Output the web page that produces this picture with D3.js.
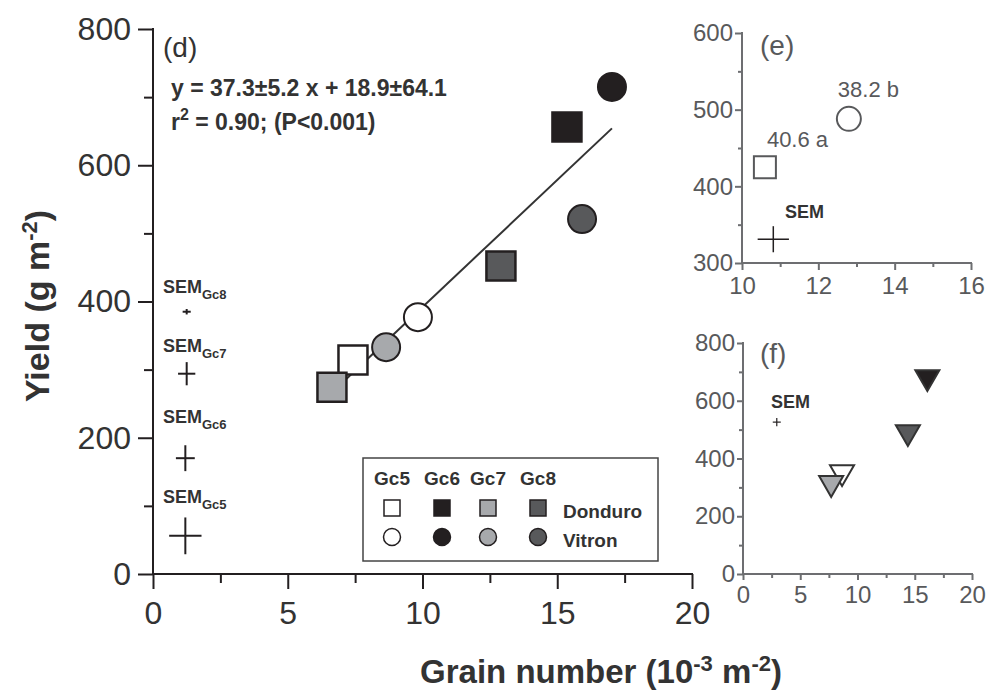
<!DOCTYPE html>
<html>
<head>
<meta charset="utf-8">
<script src="https://cdn.jsdelivr.net/npm/d3@7"></script>
<style>
body { margin: 0; background: #fff; }
svg { display: block; font-family: "Liberation Sans", Arial, sans-serif; }
</style>
</head>
<body>
<div id="grafico"></div>
<script>
// --- datos ---
const groups = ["Gc5", "Gc6", "Gc7", "Gc8"];
const cultivars = ["Donduro", "Vitron"];
const donduroGrain = [7.42, 15.36, 6.64, 12.91];
const donduroYield = [314, 656, 274, 452];
const vitronGrain = [9.83, 17.03, 8.65, 15.92];
const vitronYield = [377, 715, 333, 521];
const fitSlope = 37.3;
const fitIntercept = 18.9;
const eqText = "y = 37.3\u00b15.2 x + 18.9\u00b164.1";
const r2Text = " = 0.90; (P<0.001)";

// SEM por grupo (panel d)
const semGroups = ["Gc8", "Gc7", "Gc6", "Gc5"];
const semX = [1.25, 1.25, 1.2, 1.2];
const semY = [385, 294, 170, 56];
const semXerr = [0.15, 0.32, 0.35, 0.6];
const semYerr = [4, 17, 19, 27];
const semLabelX = [0.37, 0.37, 0.37, 0.37];
const semLabelY = [412, 326, 222, 104];

// panel e
const eGrain = [10.6, 12.8];
const eYield = [425, 488];
const eLabels = ["40.6 a", "38.2 b"];
const eSem = { x: 10.82, y: 331, xerr: 0.41, yerr: 17 };

// panel f (Gc5..Gc8)
const fGrain = [8.65, 16.1, 7.7, 14.4];
const fYield = [353, 682, 315, 491];
const fSem = { x: 2.95, y: 526, xerr: 0.35, yerr: 14 };

// ticks
const dYTicks = [0, 200, 400, 600, 800];
const dYMinor = [100, 300, 500, 700];
const dXTicks = [0, 5, 10, 15, 20];
const dXMinor = [2.5, 7.5, 12.5, 17.5];
const eYTicks = [300, 400, 500, 600];
const eYMinor = [350, 450, 550];
const eXTicks = [10, 12, 14, 16];
const eXMinor = [11, 13, 15];
const fYTicks = [0, 200, 400, 600, 800];
const fYMinor = [100, 300, 500, 700];
const fXTicks = [0, 5, 10, 15, 20];
const fXMinor = [2.5, 7.5, 12.5, 17.5];

// --- estilos ---
const groupFill = ["#ffffff", "#231f20", "#a7a9ac", "#58595b"];
const ink = "#231f20";
const grey = "#6d6e71";

const width = 989, height = 691;

const svg = d3.select("#grafico").append("svg")
  .attr("width", width).attr("height", height);

function axisStyle(g, color, fs, tcolor) {
  g.selectAll("path,line").attr("stroke", color).attr("stroke-width", 2);
  g.selectAll("text").attr("font-size", fs).attr("fill", tcolor)
    .attr("font-family", "Liberation Sans, Arial, sans-serif");
}

function drawAxes(xs, ys, o) {
  const fmt = d3.format("d");
  const gx = svg.append("g").attr("transform", `translate(0,${ys.range()[0]})`)
    .call(d3.axisBottom(xs).tickValues(o.xt).tickSize(o.major).tickSizeOuter(0)
      .tickPadding(o.xpad).tickFormat(fmt));
  svg.append("g").attr("transform", `translate(0,${ys.range()[0]})`)
    .call(d3.axisBottom(xs).tickValues(o.xm).tickSize(o.minor).tickSizeOuter(0).tickFormat(""))
    .call(g => g.select(".domain").remove())
    .call(g => axisStyle(g, o.color, o.fs, o.tcolor));
  const gy = svg.append("g").attr("transform", `translate(${xs.range()[0]},0)`)
    .call(d3.axisLeft(ys).tickValues(o.yt).tickSize(o.major).tickSizeOuter(0)
      .tickPadding(o.ypad).tickFormat(fmt));
  svg.append("g").attr("transform", `translate(${xs.range()[0]},0)`)
    .call(d3.axisLeft(ys).tickValues(o.ym).tickSize(o.minor).tickSizeOuter(0).tickFormat(""))
    .call(g => g.select(".domain").remove())
    .call(g => axisStyle(g, o.color, o.fs, o.tcolor));
  axisStyle(gx, o.color, o.fs, o.tcolor);
  axisStyle(gy, o.color, o.fs, o.tcolor);
  gx.select(".domain").attr("d", `M${xs.range()[0] - 1},0H${xs.range()[1] + 1}`);
  gy.select(".domain").attr("d", `M0,${ys.range()[0] + 1}V${ys.range()[1] - 1}`);
}

function cross(xs, ys, c, w) {
  const g = svg.append("g").attr("stroke", ink).attr("stroke-width", w);
  g.append("line").attr("x1", xs(c.x - c.xerr)).attr("x2", xs(c.x + c.xerr))
    .attr("y1", ys(c.y)).attr("y2", ys(c.y));
  g.append("line").attr("x1", xs(c.x)).attr("x2", xs(c.x))
    .attr("y1", ys(c.y - c.yerr)).attr("y2", ys(c.y + c.yerr));
}

// ================= panel (d) =================
const x = d3.scaleLinear().domain([0, 20]).range([153, 692]);
const y = d3.scaleLinear().domain([0, 800]).range([574, 29]);

drawAxes(x, y, { xt: dXTicks, xm: dXMinor, yt: dYTicks, ym: dYMinor,
  major: 15, minor: 9, xpad: 12, ypad: 7, color: ink, fs: 32, tcolor: "#333" });

// recta de regresion
const allGrain = donduroGrain.concat(vitronGrain);
const xr = d3.extent(allGrain);
svg.append("line")
  .attr("x1", x(xr[0])).attr("y1", y(fitSlope * xr[0] + fitIntercept))
  .attr("x2", x(xr[1])).attr("y2", y(fitSlope * xr[1] + fitIntercept))
  .attr("stroke", "#333").attr("stroke-width", 2);

const sq = d3.symbol().type(d3.symbolSquare).size(29 * 29);
const ci = d3.symbol().type(d3.symbolCircle).size(Math.PI * 14 * 14);
const drawOrder = [0, 1, 3, 2];

drawOrder.forEach(i => {
  svg.append("path").attr("d", ci())
    .attr("transform", `translate(${x(vitronGrain[i])},${y(vitronYield[i])})`)
    .attr("fill", groupFill[i]).attr("stroke", ink).attr("stroke-width", 2);
});
drawOrder.forEach(i => {
  svg.append("path").attr("d", sq())
    .attr("transform", `translate(${x(donduroGrain[i])},${y(donduroYield[i])})`)
    .attr("fill", groupFill[i]).attr("stroke", ink).attr("stroke-width", 2.5);
});

// SEM cruces
semGroups.forEach((gname, i) => {
  cross(x, y, { x: semX[i], y: semY[i], xerr: semXerr[i], yerr: semYerr[i] }, 2);
  const t = svg.append("text").attr("x", x(semLabelX[i])).attr("y", y(semLabelY[i]))
    .attr("font-weight", "bold").attr("font-size", 18).attr("fill", "#333");
  t.append("tspan").text("SEM");
  t.append("tspan").attr("dy", 6).attr("font-size", 13).text(gname);
});

// textos
svg.append("text").attr("x", 163).attr("y", 57).attr("font-size", 28).attr("fill", "#333").text("(d)");
svg.append("text").attr("x", 171).attr("y", 96).attr("font-size", 23).attr("font-weight", "bold")
  .attr("fill", "#333").text(eqText);
const r2 = svg.append("text").attr("x", 171).attr("y", 130).attr("font-size", 23)
  .attr("font-weight", "bold").attr("fill", "#333");
r2.append("tspan").text("r");
r2.append("tspan").attr("dy", -10).attr("font-size", 16).text("2");
r2.append("tspan").attr("dy", 10).text(r2Text);

// titulos de ejes
const xt = svg.append("text").attr("x", 601).attr("y", 683).attr("text-anchor", "middle")
  .attr("font-size", 33).attr("font-weight", "bold").attr("fill", "#333");
xt.append("tspan").text("Grain number (10");
xt.append("tspan").attr("dy", -12).attr("font-size", 22).text("-3");
xt.append("tspan").attr("dy", 12).text(" m");
xt.append("tspan").attr("dy", -12).attr("font-size", 22).text("-2");
xt.append("tspan").attr("dy", 12).text(")");

const yt = svg.append("text").attr("transform", "translate(49,306) rotate(-90)")
  .attr("text-anchor", "middle").attr("font-size", 34).attr("font-weight", "bold").attr("fill", "#333");
yt.append("tspan").text("Yield (g m");
yt.append("tspan").attr("dy", -12).attr("font-size", 22).text("-2");
yt.append("tspan").attr("dy", 12).text(")");

// leyenda
const leg = svg.append("g").attr("transform", "translate(363,458)");
leg.append("rect").attr("width", 295).attr("height", 103)
  .attr("fill", "#fff").attr("stroke", "#444").attr("stroke-width", 1.5);
const legX = [29, 79, 125, 175];
groups.forEach((gname, i) => {
  leg.append("text").attr("x", legX[i]).attr("y", 27).attr("text-anchor", "middle")
    .attr("font-size", 19).attr("font-weight", "bold").attr("fill", "#333").text(gname);
  leg.append("path").attr("d", d3.symbol().type(d3.symbolSquare).size(16 * 16)())
    .attr("transform", `translate(${legX[i]},50)`)
    .attr("fill", groupFill[i]).attr("stroke", ink).attr("stroke-width", 1.5);
  leg.append("path").attr("d", d3.symbol().type(d3.symbolCircle).size(Math.PI * 8.5 * 8.5)())
    .attr("transform", `translate(${legX[i]},79)`)
    .attr("fill", groupFill[i]).attr("stroke", ink).attr("stroke-width", 1.5);
});
cultivars.forEach((c, i) => {
  leg.append("text").attr("x", 200).attr("y", 60 + i * 29)
    .attr("font-size", 19).attr("font-weight", "bold").attr("fill", "#333").text(c);
});

// ================= panel (e) =================
const xe = d3.scaleLinear().domain([10, 16]).range([742, 971]);
const ye = d3.scaleLinear().domain([300, 600]).range([263, 33]);
drawAxes(xe, ye, { xt: eXTicks, xm: eXMinor, yt: eYTicks, ym: eYMinor,
  major: 7, minor: 4, xpad: 7, ypad: 2, color: grey, fs: 24, tcolor: "#58595b" });

svg.append("path").attr("d", d3.symbol().type(d3.symbolSquare).size(22 * 22)())
  .attr("transform", `translate(${xe(eGrain[0])},${ye(eYield[0])})`)
  .attr("fill", "#fff").attr("stroke", "#58595b").attr("stroke-width", 2);
svg.append("path").attr("d", d3.symbol().type(d3.symbolCircle).size(Math.PI * 12 * 12)())
  .attr("transform", `translate(${xe(eGrain[1])},${ye(eYield[1])})`)
  .attr("fill", "#fff").attr("stroke", "#58595b").attr("stroke-width", 2);
const eLabOff = [[2, -20], [-11, -22]];
eLabels.forEach((t, i) => {
  svg.append("text").attr("x", xe(eGrain[i]) + eLabOff[i][0]).attr("y", ye(eYield[i]) + eLabOff[i][1])
    .attr("font-size", 22).attr("fill", "#58595b").text(t);
});
cross(xe, ye, eSem, 1.5);
svg.append("text").attr("x", 785).attr("y", 218).attr("font-size", 18).attr("font-weight", "bold")
  .attr("fill", "#333").text("SEM");
svg.append("text").attr("x", 760).attr("y", 55).attr("font-size", 28).attr("fill", "#58595b").text("(e)");

// ================= panel (f) =================
const xf = d3.scaleLinear().domain([0, 20]).range([743, 972]);
const yf = d3.scaleLinear().domain([0, 800]).range([574, 343]);
drawAxes(xf, yf, { xt: fXTicks, xm: fXMinor, yt: fYTicks, ym: fYMinor,
  major: 6, minor: 4, xpad: 6, ypad: 2, color: grey, fs: 24, tcolor: "#58595b" });

const tri = d3.symbol().type(d3.symbolTriangle).size(250);
[0, 1, 3, 2].forEach(i => {
  svg.append("path").attr("d", tri())
    .attr("transform", `translate(${xf(fGrain[i])},${yf(fYield[i])}) rotate(180)`)
    .attr("fill", groupFill[i]).attr("stroke", "#333").attr("stroke-width", 2);
});
cross(xf, yf, fSem, 1.2);
svg.append("text").attr("x", 771).attr("y", 408).attr("font-size", 18).attr("font-weight", "bold")
  .attr("fill", "#333").text("SEM");
svg.append("text").attr("x", 760).attr("y", 363).attr("font-size", 28).attr("fill", "#58595b").text("(f)");
</script>
</body>
</html>
